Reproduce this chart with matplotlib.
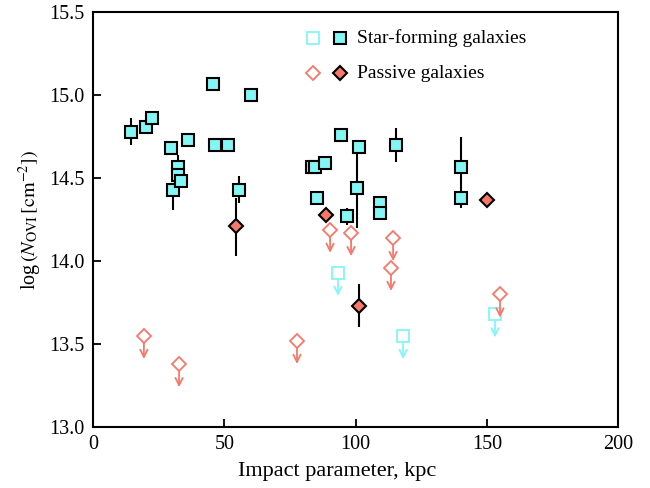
import matplotlib
matplotlib.use("Agg")
import matplotlib.pyplot as plt

plt.rcParams['font.family'] = ['Liberation Serif', 'DejaVu Serif']
plt.rcParams['mathtext.fontset'] = 'stix'

# star-forming galaxies, detections: impact parameter, log N, lower/upper error
sf_b = [14.5, 20.2, 22.5, 29.7, 30.5, 32.4, 32.4, 33.5, 36.2, 45.7, 46.5, 51.4,
        55.6, 60.2, 83.4, 84.6, 88.4, 85.3, 94.5, 96.7, 101.3, 100.6, 109.3,
        109.3, 115.4, 140.2, 140.2]
sf_n = [14.78, 14.81, 14.86, 14.68, 14.43, 14.57, 14.52, 14.48, 14.73, 15.07,
        14.70, 14.70, 14.43, 15.00, 14.57, 14.57, 14.59, 14.38, 14.76, 14.27,
        14.69, 14.44, 14.35, 14.29, 14.70, 14.57, 14.38]
sf_lo = [0.08, 0.02, 0.02, 0.01, 0.12, 0.03, 0.02, 0.02, 0.02, 0.01, 0.02, 0.03,
         0.08, 0.01, 0.03, 0.03, 0.04, 0.02, 0.01, 0.05, 0.02, 0.24, 0.05,
         0.02, 0.10, 0.20, 0.06]
sf_hi = [0.08, 0.02, 0.02, 0.01, 0.03, 0.07, 0.02, 0.02, 0.02, 0.01, 0.02, 0.03,
         0.08, 0.01, 0.03, 0.03, 0.04, 0.02, 0.01, 0.05, 0.02, 0.24, 0.02,
         0.06, 0.10, 0.18, 0.02]

# star-forming galaxies, upper limits
sf_lim_b = [93.3, 118.1, 153.1]
sf_lim_n = [13.93, 13.55, 13.68]

# passive galaxies, detections
ps_b = [54.5, 88.8, 101.3, 150.0]
ps_n = [14.21, 14.28, 13.73, 14.37]
ps_lo = [0.18, 0.01, 0.13, 0.04]
ps_hi = [0.17, 0.01, 0.13, 0.04]

# passive galaxies, upper limits
ps_lim_b = [19.4, 32.8, 77.7, 90.3, 98.3, 114.3, 113.5, 155.0]
ps_lim_n = [13.55, 13.38, 13.52, 14.19, 14.17, 14.14, 13.96, 13.80]

cyan = '#84f6f6'
salmon = '#f7786a'
arrow_len = 0.14

fig = plt.figure(figsize=(6.5, 4.88), dpi=100)
ax = fig.add_axes([0.143, 0.125, 0.808, 0.85])


def limits(xs, ys, color, marker, ms):
    for x, y in zip(xs, ys):
        ax.annotate('', xy=(x, y - arrow_len), xytext=(x, y),
                    arrowprops=dict(arrowstyle='->', color=color, lw=1.3,
                                    shrinkA=ms / 2, shrinkB=0,
                                    mutation_scale=13))
    ax.plot(xs, ys, ls='none', marker=marker, ms=ms, mfc='white',
            mec=color, mew=1.3, zorder=3)


limits(sf_lim_b, sf_lim_n, cyan, 's', 9)
limits(ps_lim_b, ps_lim_n, salmon, 'D', 7.5)

ax.errorbar(sf_b, sf_n, yerr=[sf_lo, sf_hi], fmt='s', ms=9, mfc=cyan,
            mec='black', mew=1.5, ecolor='black', elinewidth=1.5, capsize=0,
            zorder=4)
ax.errorbar(ps_b, ps_n, yerr=[ps_lo, ps_hi], fmt='D', ms=7.5, mfc=salmon,
            mec='black', mew=1.5, ecolor='black', elinewidth=1.5, capsize=0,
            zorder=5)

# legend drawn by hand
tr = ax.transAxes
ax.plot([0.419], [0.937], 's', ms=9, mfc='white', mec=cyan, mew=1.3, transform=tr)
ax.plot([0.470], [0.937], 's', ms=9, mfc=cyan, mec='black', mew=1.5, transform=tr)
ax.text(0.503, 0.937, 'Star-forming galaxies', transform=tr, va='center',
        fontsize=14)
ax.plot([0.419], [0.853], 'D', ms=7.5, mfc='white', mec=salmon, mew=1.3, transform=tr)
ax.plot([0.470], [0.853], 'D', ms=7.5, mfc=salmon, mec='black', mew=1.5, transform=tr)
ax.text(0.503, 0.853, 'Passive galaxies', transform=tr, va='center',
        fontsize=14)

ax.set_xlim(0, 200)
ax.set_ylim(13.0, 15.5)
ax.set_xticks([0, 50, 100, 150, 200])
ax.set_yticks([13.0, 13.5, 14.0, 14.5, 15.0, 15.5])
ax.set_yticklabels(['13.0', '13.5', '14.0', '14.5', '15.0', '15.5'])
ax.tick_params(direction='in', length=6, width=1.3, labelsize=14.5, pad=6)
for s in ax.spines.values():
    s.set_linewidth(1.5)

ax.set_xlabel('Impact parameter, kpc', fontsize=16)
ax.xaxis.set_label_coords(0.465, -0.085)
ax.set_ylabel(r'log$\,(N_{\rm OVI}\,[{\rm cm}^{-2}])$', fontsize=14.5)

fig.savefig('out.png', dpi=100)
